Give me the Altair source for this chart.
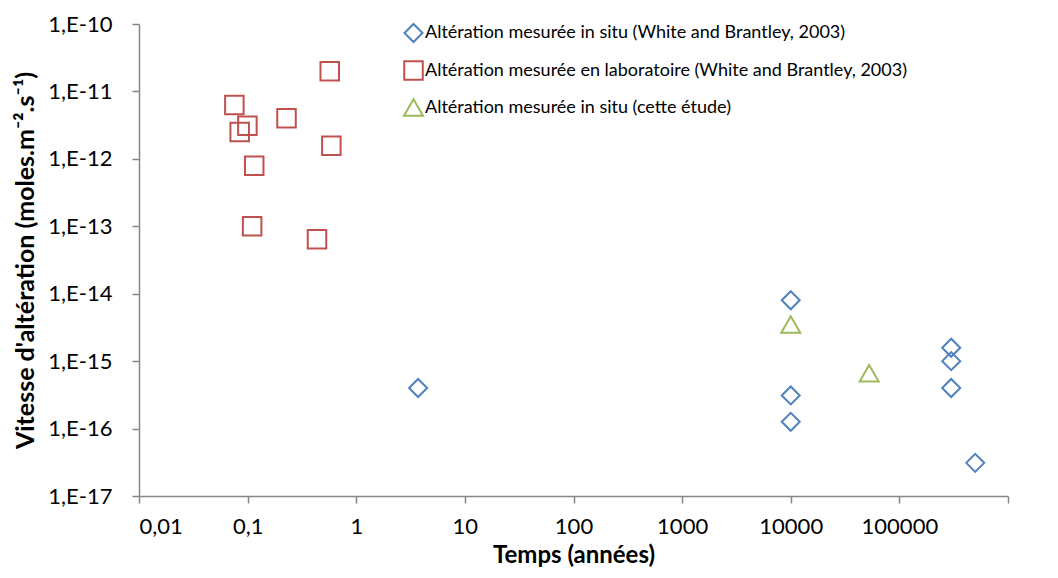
import altair as alt
import pandas as pd

series_names = [
    "Altération mesurée in situ (White and Brantley, 2003)",
    "Altération mesurée en laboratoire (White and Brantley, 2003)",
    "Altération mesurée in situ (cette étude)",
]
series_colors = ["#4F81BD", "#C0504D", "#9BBB59"]
series_shapes = ["diamond", "square", "triangle-up"]

insitu_x = [3.71, 10000, 10000, 10000, 300000, 300000, 300000, 499000]
insitu_y = [4.0e-16, 8.0e-15, 3.1e-16, 1.26e-16, 1.58e-15, 1.0e-15, 4.0e-16, 3.1e-17]

lab_x = [0.0755, 0.0995, 0.0845, 0.228, 0.57, 0.59, 0.115, 0.11, 0.435]
lab_y = [6.3e-12, 3.1e-12, 2.5e-12, 4.0e-12, 2.0e-11, 1.56e-12, 7.9e-13, 1.0e-13, 6.4e-14]

this_x = [10000, 52700]
this_y = [3.5e-15, 6.6e-16]

x_tick_values = [0.01, 0.1, 1, 10, 100, 1000, 10000, 100000, 1000000]
x_tick_labels = ["0,01", "0,1", "1", "10", "100", "1000", "10000", "100000", "1000000"]
y_tick_values = [1e-17, 1e-16, 1e-15, 1e-14, 1e-13, 1e-12, 1e-11, 1e-10]
y_tick_labels = ["1,E-17", "1,E-16", "1,E-15", "1,E-14", "1,E-13", "1,E-12", "1,E-11", "1,E-10"]

rows = []
for xs, ys, name in [(insitu_x, insitu_y, series_names[0]),
                     (lab_x, lab_y, series_names[1]),
                     (this_x, this_y, series_names[2])]:
    for a, b in zip(xs, ys):
        rows.append({"t": a, "v": b, "serie": name})
df = pd.DataFrame(rows)

x_label_expr = "[" + ",".join("'%s'" % s for s in x_tick_labels) + "][round(log(datum.value)/LN10)+2]"
y_label_expr = "[" + ",".join("'%s'" % s for s in y_tick_labels) + "][round(log(datum.value)/LN10)+17]"

FONT = "Lato"
AXIS_GREY = "#868686"

legend_opts = dict(title=None, orient="none", legendX=264, legendY=-1, padding=0,
                   symbolSize=70, symbolStrokeWidth=2,
                   labelFontSize=18, labelFont=FONT, labelColor="black",
                   labelOffset=1, rowPadding=11, labelLimit=800)

chart = alt.Chart(df).mark_point(filled=False, strokeWidth=2, opacity=1).encode(
    x=alt.X("t:Q",
            scale=alt.Scale(type="log", domain=[0.01, 1000000], nice=False),
            axis=alt.Axis(values=x_tick_values, labelExpr=x_label_expr,
                          title="Temps (années)", grid=False,
                          labelPadding=13, titlePadding=6, titleFontSize=24)),
    y=alt.Y("v:Q",
            scale=alt.Scale(type="log", domain=[1e-17, 1e-10], nice=False),
            axis=alt.Axis(values=y_tick_values, labelExpr=y_label_expr,
                          title="Vitesse d'altération (moles.m⁻².s⁻¹)", grid=False,
                          labelPadding=20, titlePadding=9, titleFontSize=25)),
    shape=alt.Shape("serie:N",
                    scale=alt.Scale(domain=series_names, range=series_shapes),
                    legend=alt.Legend(**legend_opts)),
    color=alt.Color("serie:N",
                    scale=alt.Scale(domain=series_names, range=series_colors),
                    legend=alt.Legend(**legend_opts)),
    size=alt.Size("serie:N",
                  scale=alt.Scale(domain=series_names, range=[324, 361, 390]),
                  legend=None),
).properties(
    width=869, height=472,
    autosize=alt.AutoSizeParams(type="none"),
    padding={"left": 131, "top": 16, "right": 42, "bottom": 74},
).configure_view(
    stroke=None
).configure_axis(
    domainColor=AXIS_GREY, domainWidth=1.5,
    tickColor=AXIS_GREY, tickSize=7, tickWidth=1.5,
    labelFont=FONT, labelFontSize=22, labelColor="black",
    titleFont=FONT, titleFontWeight="bold", titleColor="black",
)

chart.save("out.html", embed_options={"renderer": "svg", "actions": False})
